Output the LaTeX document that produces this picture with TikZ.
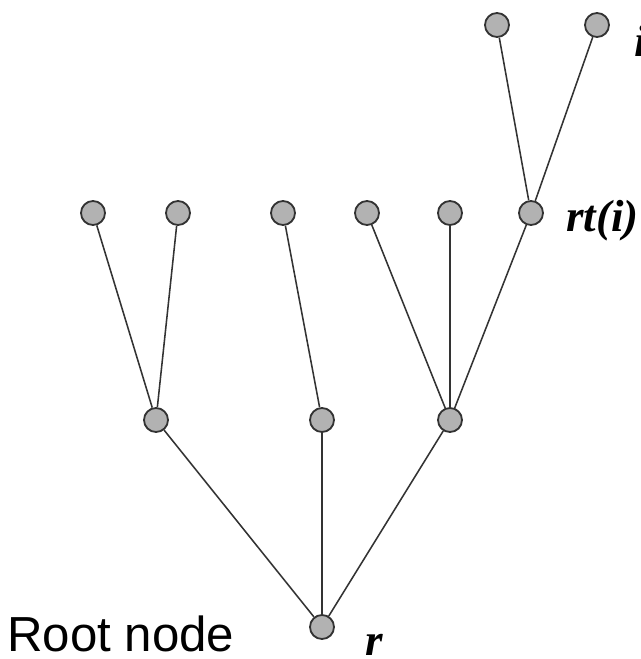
\documentclass[tikz,border=0pt]{standalone}
\usepackage{fontspec}
\setmainfont{Liberation Serif}
\newfontfamily\labelsans{Liberation Sans}
\begin{document}
\begin{tikzpicture}[x=0.025cm,y=-0.025cm]
                \tikzstyle{vertex} = [circle, minimum size=0.6cm, inner sep=0pt, fill=black!30, draw=black!80, line width=1.3pt]
                \tikzstyle{edge} = [draw=black!80, line width=1.1pt]
                \tikzstyle{tag} = [font=\fontsize{32}{36}\selectfont\bfseries\itshape, inner sep=0pt]
                \useasboundingbox (0,0) rectangle (640,659);

                \node (top1) [vertex] at (497,25) {};
                \node (top2) [vertex] at (597,25) {};
                \node (b1) [vertex] at (93,213) {};
                \node (b2) [vertex] at (178,213) {};
                \node (b3) [vertex] at (283,213) {};
                \node (b4) [vertex] at (367,213) {};
                \node (b5) [vertex] at (450,213) {};
                \node (rt) [vertex] at (531,213) {};
                \node (c1) [vertex] at (156,420) {};
                \node (c2) [vertex] at (322,420) {};
                \node (c3) [vertex] at (450,420) {};
                \node (root) [vertex] at (322,627) {};

                \node (ilabel) [tag, anchor=base west] at (634,56) {i};
                \node (rtlabel) [tag, anchor=base west] at (566,231) {rt(i)};
                \node (rlabel) [tag, anchor=base west] at (365,655) {r};
                \node (rootlabel) [font=\labelsans\fontsize{35}{40}\selectfont, inner sep=0pt, anchor=base west] at (7,651) {Root node};

                \draw [edge] (rt) -- (top1);
                \draw [edge] (rt) -- (top2);
                \draw [edge] (c1) -- (b1);
                \draw [edge] (c1) -- (b2);
                \draw [edge] (c2) -- (b3);
                \draw [edge] (c3) -- (b4);
                \draw [edge] (c3) -- (b5);
                \draw [edge] (c3) -- (rt);
                \draw [edge] (root) -- (c1);
                \draw [edge] (root) -- (c2);
                \draw [edge] (root) -- (c3);
            \end{tikzpicture}
\end{document}
